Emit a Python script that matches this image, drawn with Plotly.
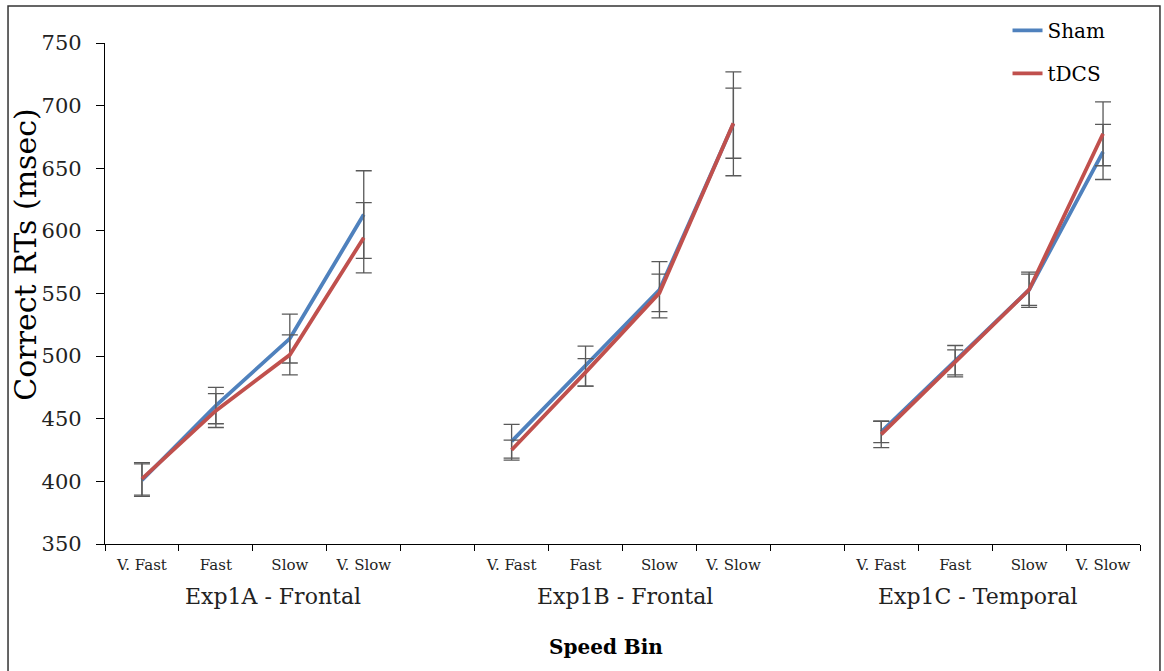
import plotly.graph_objects as go

# ---- data ----
groups = ["Exp1A - Frontal", "Exp1B - Frontal", "Exp1C - Temporal"]
bins = ["V. Fast", "Fast", "Slow", "V. Slow"]

sham_A = [401, 460.5, 514, 613]
sham_A_err = [13, 14.5, 19.5, 35]
tdcs_A = [402, 456.5, 501, 594.5]
tdcs_A_err = [13, 13.5, 16, 28]

sham_B = [432, 492, 553, 685.5]
sham_B_err = [13.5, 16, 22.5, 41.5]
tdcs_B = [425, 487, 550.5, 686]
tdcs_B_err = [8, 11, 15, 28]

sham_C = [439.5, 496, 553, 663]
sham_C_err = [8.5, 12.5, 14, 22]
tdcs_C = [437.5, 495, 553, 677.5]
tdcs_C_err = [10.5, 10, 12.5, 25.5]

y_ticks = [350, 400, 450, 500, 550, 600, 650, 700, 750]

# ---- layout helpers (categories with a blank slot between groups) ----
n_bins = len(bins)
xpos, xlabels = [], []
for g in range(len(groups)):
    for b in range(n_bins):
        xpos.append(g * (n_bins + 1) + b)
        xlabels.append(bins[b])


def with_gaps(*parts):
    out = []
    for i, p in enumerate(parts):
        if i:
            out.append(None)
        out.extend(p)
    return out


x_full = []
for g in range(len(groups)):
    if g:
        x_full.append(g * (n_bins + 1) - 1)
    x_full.extend(range(g * (n_bins + 1), g * (n_bins + 1) + n_bins))

sham = with_gaps(sham_A, sham_B, sham_C)
sham_err = with_gaps(sham_A_err, sham_B_err, sham_C_err)
tdcs = with_gaps(tdcs_A, tdcs_B, tdcs_C)
tdcs_err = with_gaps(tdcs_A_err, tdcs_B_err, tdcs_C_err)

FONT = "DejaVu Serif"
ERR = dict(type="data", visible=True, color="#595959", thickness=1.3, width=8)

fig = go.Figure()
fig.add_trace(go.Scatter(
    x=x_full, y=sham, mode="lines", name="Sham",
    line=dict(color="#4F81BD", width=3.8), connectgaps=False,
    error_y=dict(array=sham_err, **ERR), legendgroup="a",
))
fig.add_trace(go.Scatter(
    x=x_full, y=tdcs, mode="lines", name="tDCS",
    line=dict(color="#C0504D", width=3.8), connectgaps=False,
    error_y=dict(array=tdcs_err, **ERR), legendgroup="b",
))

total = len(groups) * (n_bins + 1) - 1
fig.update_xaxes(
    range=[-0.5, total - 0.5],
    tickmode="array", tickvals=xpos, ticktext=xlabels,
    ticks="", tickfont=dict(family=FONT, size=15, color="#222"),
    ticklabelstandoff=7,
    showline=True, linecolor="black", linewidth=1.2,
    showgrid=False, zeroline=False,
    minor=dict(tickmode="linear", tick0=-0.5, dtick=1, ticks="outside",
               ticklen=6, tickcolor="black", tickwidth=1.2, showgrid=False),
)
fig.update_yaxes(
    range=[350, 750], tickmode="array", tickvals=y_ticks,
    ticks="outside", ticklen=8, tickcolor="black", tickwidth=1.2,
    tickfont=dict(family=FONT, size=21, color="#222"),
    ticklabelstandoff=10,
    showline=True, linecolor="black", linewidth=1.2,
    showgrid=False, zeroline=False,
)

annotations = []
group_label_x = [1.77, 6.53, 11.31]
for gx, gname in zip(group_label_x, groups):
    annotations.append(dict(x=gx, xref="x", y=-0.104, yref="paper",
                            text=gname, showarrow=False, xanchor="center",
                            yanchor="middle",
                            font=dict(family=FONT, size=22, color="#222")))
annotations.append(dict(x=0.484, xref="paper", y=-0.205, yref="paper",
                        text="<b>Speed Bin</b>", showarrow=False,
                        xanchor="center", yanchor="middle",
                        font=dict(family=FONT, size=20, color="black")))
annotations.append(dict(x=-0.077, xref="paper", y=0.578, yref="paper",
                        text="Correct RTs (msec)", showarrow=False,
                        textangle=-90, xanchor="center", yanchor="middle",
                        font=dict(family=FONT, size=30, color="black")))

fig.update_layout(
    width=1164, height=671,
    margin=dict(l=105, r=24, t=42, b=127),
    paper_bgcolor="white", plot_bgcolor="white",
    annotations=annotations,
    showlegend=True,
    legend=dict(x=0.872, y=1.062, xanchor="left", yanchor="top",
                font=dict(family=FONT, size=20, color="black"),
                tracegroupgap=14, bgcolor="rgba(0,0,0,0)"),
    shapes=[dict(type="rect", xref="paper", yref="paper",
                 x0=-0.0937, x1=1.0193, y0=-0.27, y1=1.0737,
                 line=dict(color="#333", width=1.5), layer="below")],
)

fig.write_html("out.html")
